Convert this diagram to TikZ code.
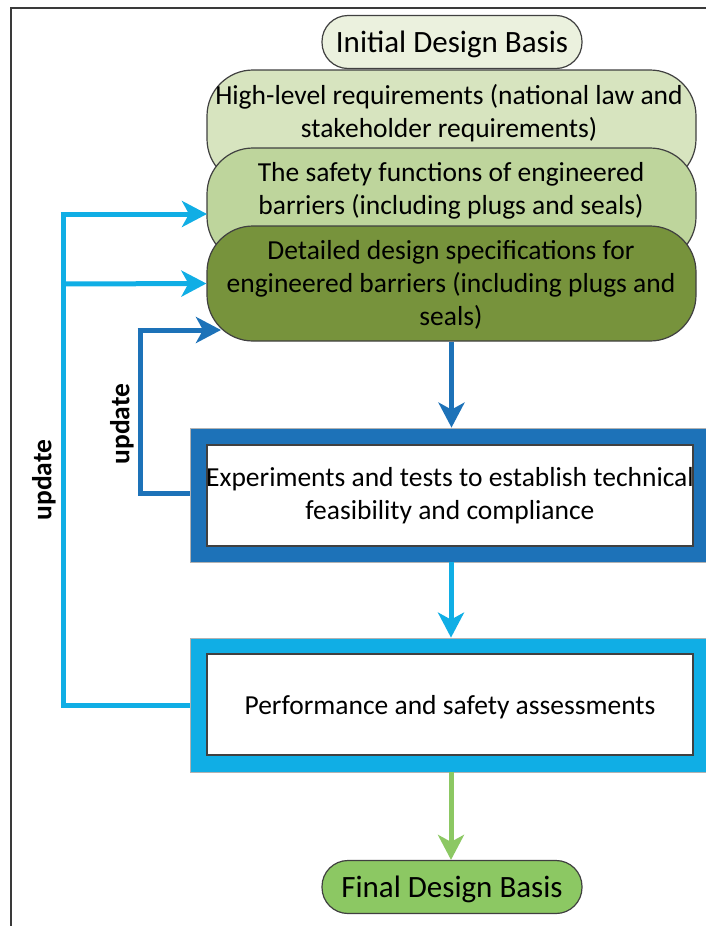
\documentclass[tikz,border=0pt]{standalone}
\usepackage{fontspec}
\setmainfont{Carlito}
\usetikzlibrary{arrows.meta}
\definecolor{frameC}{HTML}{3A3A3A}
\definecolor{initC}{HTML}{EBF1DE}
\definecolor{highC}{HTML}{D7E4BF}
\definecolor{safeC}{HTML}{BED59C}
\definecolor{detC}{HTML}{77933C}
\definecolor{dblue}{HTML}{1D72B8}
\definecolor{lblue}{HTML}{10AEE5}
\definecolor{lgreen}{HTML}{8CC863}
\definecolor{edgeC}{HTML}{404040}
\tikzset{
  bodyfont/.style={font=\fontsize{27.5}{33}\selectfont},
  pill/.style={draw=edgeC, line width=1.2pt, rectangle, rounded corners=26pt,
    minimum width=260pt, minimum height=53pt, inner sep=0pt,
    font=\fontsize{31}{36}\selectfont},
  pilltext/.style={inner sep=0pt, font=\fontsize{31}{36}\selectfont},
  layer/.style={draw=edgeC, line width=1.2pt, rectangle, rounded corners=46pt,
    minimum width=489pt, minimum height=115pt, inner sep=0pt, align=center, bodyfont},
  outerbox/.style={draw=gray!60, line width=0.8pt, rectangle, minimum width=522pt,
    minimum height=134pt, inner sep=0pt},
  innerbox/.style={draw=edgeC, line width=1.2pt, fill=white, rectangle,
    minimum width=486pt, minimum height=101pt, inner sep=0pt},
  conn/.style={line width=5pt, -{Stealth[length=25pt,width=26pt,inset=7pt]}},
  plainconn/.style={line width=5pt},
  lbl/.style={rotate=90, font=\fontsize{27.5}{33}\selectfont\bfseries},
  txt/.style={align=center, bodyfont, inner sep=0pt}
}
\begin{document}
\begin{tikzpicture}[x=1pt,y=-1pt]
\useasboundingbox (0,0) rectangle (706,926);
% frame
\draw[frameC, line width=2pt] (11,926) -- (11,8) -- (706,8);
% stacked layers
\node[layer, fill=highC] (high) at (451.5,127.5) {};
\node[txt] (hightxt) at (449,113) {High-level requirements (national law and\\stakeholder requirements)};
\node[layer, fill=safeC] (safe) at (451.5,205.5) {};
\node[txt] (safetxt) at (451,191) {The safety functions of engineered\\barriers (including plugs and seals)};
\node[layer, fill=detC] (det) at (451.5,283.5) {};
\node[txt] (dettxt) at (451,285) {Detailed design specifications for\\engineered barriers (including plugs and\\seals)};
\node[pill, fill=initC] (init) at (452,42) {};
\node[pilltext] (inittxt) at (452,44) {Initial Design Basis};
% experiments box
\node[outerbox, fill=dblue] (expo) at (451,495) {};
\node[innerbox] (expi) at (450,495.5) {};
\node[txt] (exptxt) at (450,496) {Experiments and tests to establish technical\\feasibility and compliance};
% performance box
\node[outerbox, fill=lblue] (perfo) at (451,705) {};
\node[innerbox] (perfi) at (450,704.5) {};
\node[txt] (perftxt) at (450,707) {Performance and safety assessments};
% final
\node[pill, fill=lgreen] (final) at (452,887) {};
\node[pilltext] (finaltxt) at (452,889) {Final Design Basis};
% down arrows
\draw[conn, dblue] (det.south) -- (det.south |- expo.north);
\draw[conn, lblue] (expo.south) -- (expo.south |- perfo.north);
\draw[conn, lgreen] (perfo.south) -- (perfo.south |- final.north);
% light blue update loop
\coordinate (lbtop) at (63,214);
\coordinate (lbmid) at (63,284);
\coordinate (lbbot) at (63,705);
\coordinate (safein) at (207,214);
\draw[plainconn, lblue] (perfo.west) -- (lbbot) -- ([yshift=-2.5pt]lbtop);
\draw[conn, lblue] ([xshift=-2.5pt]lbtop) -- (safein);
\draw[conn, lblue] (lbmid) -- (det.west);
% dark blue update loop
\coordinate (dbbot) at (140,493);
\coordinate (dbtop) at (140,330);
\coordinate (detin) at (221,330);
\draw[plainconn, dblue] (expo.west |- dbbot) -- (dbbot) -- ([yshift=-2.5pt]dbtop);
\draw[conn, dblue] ([xshift=-2.5pt]dbtop) -- (detin);
% labels
\node[lbl] (upd1) at (44,480) {update};
\node[lbl] (upd2) at (122,424) {update};
\end{tikzpicture}
\end{document}
